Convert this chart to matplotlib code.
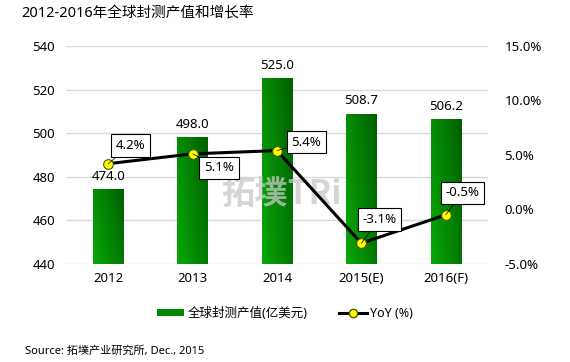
import matplotlib.pyplot as plt
import numpy as np
from matplotlib.colors import LinearSegmentedColormap
from matplotlib.lines import Line2D
from matplotlib.patches import Patch

plt.rcParams['font.family'] = ['Noto Sans', 'Noto Sans CJK SC', 'DejaVu Sans']

years = ['2012', '2013', '2014', '2015(E)', '2016(F)']
revenue = [474.0, 498.0, 525.0, 508.7, 506.2]
yoy = [4.2, 5.1, 5.4, -3.1, -0.5]
# label offsets (points) for the yoy boxes
yoy_offsets = [(16, 13), (19, -10), (21, 6), (13, 17), (12, 16)]

fig = plt.figure(figsize=(5.7, 3.62), dpi=100)
ax = fig.add_axes([0.116, 0.271, 0.74, 0.602])
x = np.arange(len(years))
width = 0.36

cmap = LinearSegmentedColormap.from_list('g', ['#08a808', '#005f00'])
bars = ax.bar(x, revenue, width, color='#008800', zorder=2)
gx, gy = np.meshgrid(np.linspace(0, 1, 40), np.linspace(0, 1, 80))
grad = 0.65 * gx + 0.35 * gy
for b in bars:
    x0 = b.get_x()
    ax.imshow(grad, cmap=cmap, aspect='auto', zorder=2.1, origin='lower',
              extent=[x0, x0 + b.get_width(), 440, b.get_height()])
ax.set_xlim(-0.5, len(years) - 0.5)
ax.set_ylim(440, 540)
ax.set_yticks(range(440, 541, 20))
ax.grid(axis='y', color='#d9d9d9', linewidth=1, zorder=0)
for s in ax.spines.values():
    s.set_visible(False)
ax.tick_params(length=0, labelsize=9.5, pad=8)
ax.set_xticks(x)
ax.set_xticklabels(years)
ax.tick_params(axis='x', pad=6)

for xi, v in zip(x, revenue):
    ax.annotate(f'{v:.1f}', (xi, v), xytext=(0, 5), textcoords='offset points',
                ha='center', va='bottom', fontsize=9.5)

# watermark, drawn over the bars
ax.text(0.51, 0.32, '拓墣TRi', transform=ax.transAxes, ha='center', va='center',
        fontsize=24, fontweight='bold', color='#c8c8c8', alpha=0.75, zorder=2.5,
        family=['Noto Sans CJK SC', 'DejaVu Sans'])

ax2 = ax.twinx()
ax2.set_ylim(-5, 15)
ax2.set_yticks(range(-5, 16, 5))
ax2.set_yticklabels([f'{t:.1f}%' for t in range(-5, 16, 5)])
for s in ax2.spines.values():
    s.set_visible(False)
ax2.tick_params(length=0, labelsize=9.5, pad=12)
ax2.plot(x, yoy, color='black', linewidth=2.2, marker='o', markersize=7,
         markerfacecolor='#ffff00', markeredgecolor='#555500', markeredgewidth=0.8, zorder=3)
for xi, v, off in zip(x, yoy, yoy_offsets):
    ax2.annotate(f'{v:.1f}%', (xi, v), xytext=off, textcoords='offset points',
                 ha='center', va='center', fontsize=9.5,
                 bbox=dict(boxstyle='square,pad=0.35', fc='white', ec='black', lw=0.8),
                 arrowprops=dict(arrowstyle='-', lw=0.5, color='black', shrinkA=0, shrinkB=0),
                 zorder=4)

fig.text(0.038, 0.962, '2012-2016年全球封测产值和增长率', fontsize=10.5, va='center')
fig.text(0.044, 0.03, 'Source: 拓墣产业研究所, Dec., 2015', fontsize=8, va='center')

handles = [Patch(facecolor='#008800', edgecolor='none'),
           Line2D([0], [0], color='black', linewidth=2.2, marker='o', markersize=6,
                  markerfacecolor='#ffff00', markeredgecolor='#555500')]
fig.legend(handles, ['全球封测产值(亿美元)', 'YoY (%)'], loc='center',
           bbox_to_anchor=(0.5, 0.135), ncol=2, frameon=False, fontsize=9,
           handlelength=2.2, handleheight=0.5, columnspacing=2.5, handletextpad=0.3)

fig.savefig('out.png', dpi=100)
